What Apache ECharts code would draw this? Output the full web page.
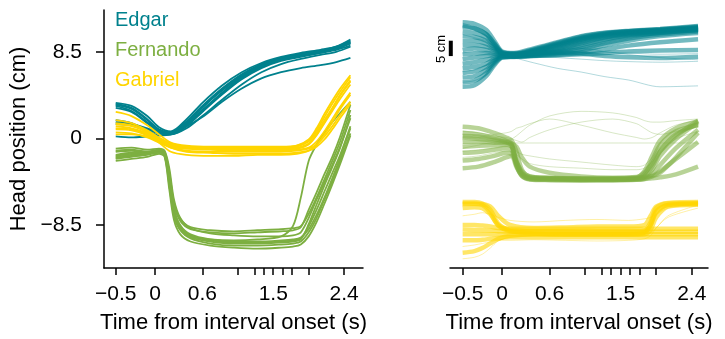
<!DOCTYPE html>
<html>
<head>
<meta charset="utf-8">
<script src="https://cdn.jsdelivr.net/npm/echarts@6/dist/echarts.min.js"></script>
<style>
  html, body { margin: 0; padding: 0; background: #fff; }
  #chart { width: 725px; height: 339px; }
</style>
</head>
<body>
<div id="chart"></div>
<script>
// colours per monkey
const colors = { Edgar: "#00818d", Fernando: "#7daf41", Gabriel: "#ffd500" };

// x axis ticks (s)
const tickValues = [-0.5, 0, 0.6, 1.05, 1.26, 1.38, 1.5, 1.62, 1.74, 1.95, 2.4];
const labelValues = [-0.5, 0, 0.6, 1.5, 2.4];
const yLabelValues = [-8.5, 0, 8.5];

// left panel: example trials, head position (cm)
const leftTimeEdgar = [-0.5, -0.3, -0.1, 0.05, 0.2, 0.4, 0.6, 0.85, 1.1, 1.35, 1.6, 1.85, 2.1, 2.3, 2.48];
const leftEdgar = [
  [3.4, 3.0, 1.9, 0.9, 0.6, 1.7, 3.2, 4.9, 6.3, 7.3, 7.9, 8.3, 8.6, 8.9, 9.5],
  [3.2, 2.7, 1.6, 0.7, 0.5, 1.4, 2.8, 4.5, 6.0, 7.1, 7.7, 8.1, 8.4, 8.8, 9.3],
  [3.5, 3.2, 2.2, 1.1, 0.7, 1.9, 3.5, 5.2, 6.5, 7.4, 8.0, 8.4, 8.7, 9.0, 9.6],
  [1.6, 1.4, 1.0, 0.6, 0.4, 1.2, 2.6, 4.3, 5.8, 6.9, 7.6, 8.0, 8.4, 8.7, 9.1],
  [1.4, 1.3, 0.9, 0.5, 0.5, 1.5, 3.0, 4.8, 6.2, 7.2, 7.8, 8.2, 8.5, 8.8, 9.4],
  [3.0, 2.6, 1.5, 0.6, 0.4, 1.0, 2.2, 3.8, 5.3, 6.5, 7.3, 7.8, 8.2, 8.5, 9.0],
  [1.8, 1.5, 0.8, 0.3, 0.4, 1.3, 2.7, 4.4, 5.9, 7.0, 7.7, 8.2, 8.5, 8.9, 9.4],
  [3.3, 2.9, 1.8, 0.8, 0.6, 1.2, 2.1, 3.6, 4.9, 5.9, 6.5, 6.9, 7.2, 7.5, 7.9],
  [0.2, 0.1, 0.2, 0.3, 0.5, 1.6, 3.1, 4.7, 6.1, 7.1, 7.8, 8.2, 8.6, 9.0, 9.7]
];
const leftTimeFernando = [-0.5, -0.3, -0.1, 0.05, 0.12, 0.18, 0.24, 0.32, 0.45, 0.7, 1.0, 1.3, 1.6, 1.75, 1.85, 1.95, 2.05, 2.15, 2.25, 2.35, 2.48];
const leftFernando = [
  [-1.6, -1.4, -1.4, -1.2, -1.5, -3.9, -7.0, -8.6, -9.5, -10.0, -10.2, -10.2, -10.1, -10.0, -9.8, -8.6, -7.0, -5.2, -3.4, -1.6, 1.2],
  [-1.9, -1.7, -1.5, -1.3, -1.7, -4.6, -7.6, -9.0, -9.8, -10.3, -10.5, -10.5, -10.4, -10.3, -10.1, -9.2, -7.8, -6.0, -4.2, -2.2, 0.5],
  [-1.0, -0.9, -1.1, -1.0, -1.2, -2.9, -6.0, -7.8, -8.8, -9.3, -9.5, -9.6, -9.6, -9.5, -9.2, -7.8, -6.0, -4.3, -2.6, -0.8, 2.0],
  [-2.2, -2.0, -1.8, -1.5, -1.8, -5.0, -8.0, -9.4, -10.1, -10.5, -10.7, -10.8, -10.7, -10.6, -10.4, -9.6, -8.2, -6.4, -4.5, -2.5, 0.3],
  [-1.3, -1.2, -1.3, -1.1, -1.3, -3.3, -6.3, -7.9, -8.7, -9.0, -9.1, -9.0, -8.9, -8.8, -8.6, -7.4, -5.8, -4.0, -2.2, -0.3, 2.8],
  [-1.7, -1.5, -1.5, -1.3, -1.6, -4.1, -7.2, -8.8, -9.6, -9.9, -10.0, -9.9, -9.6, -8.6, -5.8, -2.2, -0.6, 0.6, 1.6, 2.5, 3.6],
  [-1.8, -1.6, -1.4, -1.2, -1.4, -3.7, -6.9, -8.5, -9.4, -9.9, -10.1, -10.1, -10.0, -9.9, -9.7, -8.9, -7.5, -5.8, -3.9, -1.9, 1.0],
  [-1.2, -1.1, -1.3, -1.2, -1.6, -4.3, -7.4, -8.9, -9.7, -10.1, -10.3, -10.3, -10.2, -10.1, -9.9, -8.4, -6.5, -4.6, -2.8, -0.9, 2.3],
  [-2.0, -1.8, -1.6, -1.4, -1.5, -3.5, -6.5, -8.1, -8.9, -9.2, -9.3, -9.2, -9.1, -9.0, -8.7, -7.0, -5.3, -3.5, -1.8, 0.2, 3.3]
];
const leftTimeGabriel = [-0.5, -0.3, -0.1, 0.05, 0.2, 0.4, 0.7, 1.0, 1.3, 1.6, 1.8, 1.95, 2.05, 2.15, 2.25, 2.35, 2.48];
const leftGabriel = [
  [1.5, 1.3, 0.7, 0.0, -0.6, -0.9, -1.0, -1.1, -1.1, -1.1, -1.0, -0.6, 0.3, 1.5, 2.7, 3.9, 5.3],
  [1.0, 0.9, 0.4, -0.2, -0.7, -1.0, -1.1, -1.2, -1.2, -1.2, -1.1, -0.9, -0.3, 0.7, 1.9, 3.1, 4.5],
  [2.6, 2.2, 1.3, 0.4, -0.4, -0.7, -0.8, -0.8, -0.8, -0.8, -0.7, -0.2, 0.8, 2.1, 3.4, 4.6, 6.0],
  [0.6, 0.5, 0.1, -0.4, -0.9, -1.2, -1.3, -1.3, -1.3, -1.3, -1.2, -1.0, -0.6, 0.2, 1.2, 2.3, 3.6],
  [1.8, 1.5, 0.8, 0.1, -0.5, -0.8, -0.9, -1.0, -1.0, -1.0, -0.8, -0.3, 0.6, 1.8, 3.0, 4.3, 5.7],
  [1.2, 1.0, 0.5, -0.4, -1.3, -1.6, -1.7, -1.7, -1.6, -1.6, -1.5, -1.2, -0.6, 0.4, 1.6, 2.9, 4.3],
  [0.9, 0.8, 0.3, -0.3, -0.8, -1.0, -1.0, -1.0, -1.0, -1.0, -0.9, -0.5, 0.4, 1.6, 2.9, 4.2, 5.6],
  [1.4, 1.2, 0.6, -0.1, -0.6, -0.8, -0.9, -0.9, -0.9, -0.9, -0.7, -0.1, 1.0, 2.4, 3.7, 4.9, 6.2],
  [0.4, 0.4, 0.2, -0.2, -0.9, -1.3, -1.4, -1.5, -1.5, -1.5, -1.4, -1.2, -0.8, -0.1, 0.9, 2.0, 3.4]
];

// right panel: all trials, stacked with an offset (cm)
const rightTimeEdgar = [-0.5, -0.35, -0.2, -0.1, 0, 0.15, 0.4, 0.7, 1.0, 1.3, 1.6, 2.0, 2.48];
const rightEdgarDense = [
  [80.0, 79.5, 77.5, 74.0, 70.5, 70.0, 71.5, 73.5, 75.5, 76.6, 77.2, 77.8, 78.8],
  [78.5, 78.0, 76.2, 73.2, 70.2, 69.8, 71.2, 73.3, 75.3, 76.5, 77.1, 77.7, 78.6],
  [77.0, 76.5, 75.0, 72.5, 70.0, 69.6, 71.0, 73.0, 75.0, 76.3, 77.0, 77.6, 78.4],
  [75.5, 75.2, 74.0, 72.0, 69.9, 69.5, 70.8, 72.8, 74.8, 76.2, 76.9, 77.5, 78.3],
  [74.0, 74.0, 73.0, 71.5, 69.8, 69.4, 70.6, 72.6, 74.6, 76.0, 76.8, 77.4, 78.2],
  [72.5, 72.6, 72.0, 71.0, 69.7, 69.4, 70.4, 72.3, 74.3, 75.8, 76.6, 77.3, 78.0],
  [71.0, 71.5, 71.0, 70.5, 69.6, 69.3, 70.2, 72.0, 74.0, 75.6, 76.4, 77.1, 77.9],
  [69.5, 69.8, 70.0, 69.8, 69.4, 69.2, 70.0, 71.6, 73.6, 75.3, 76.2, 77.0, 77.8],
  [68.0, 68.5, 69.0, 69.3, 69.3, 69.2, 69.8, 71.2, 73.2, 75.0, 76.0, 76.8, 77.6],
  [66.5, 67.0, 67.8, 68.6, 69.1, 69.1, 69.6, 70.8, 72.6, 74.5, 75.7, 76.6, 77.5],
  [65.0, 65.5, 66.5, 68.0, 69.0, 69.0, 69.5, 70.5, 72.0, 74.0, 75.4, 76.5, 77.4],
  [63.5, 64.0, 65.5, 67.5, 68.8, 68.9, 69.3, 70.1, 71.4, 73.2, 74.7, 76.0, 77.0],
  [62.0, 62.5, 64.5, 67.0, 68.7, 68.8, 69.2, 69.8, 70.8, 72.5, 74.0, 75.5, 76.5],
  [60.5, 61.0, 63.5, 66.5, 68.6, 68.8, 69.1, 69.5, 70.2, 71.2, 72.4, 73.5, 74.5],
  [59.0, 59.5, 62.5, 66.0, 68.5, 68.7, 69.0, 69.3, 69.6, 70.0, 70.5, 70.8, 71.0],
  [79.0, 78.0, 76.0, 73.0, 70.2, 69.8, 70.0, 70.2, 69.8, 69.0, 68.6, 68.4, 68.8]
];
const rightEdgarSparse = [
  [60.5, 61.0, 63.0, 66.5, 68.8, 68.4, 66.8, 65.0, 63.8, 62.3, 61.2, 59.0, 59.3],
  [76.0, 75.0, 74.0, 72.0, 70.0, 69.5, 69.0, 68.5, 68.0, 67.5, 67.2, 67.0, 67.3],
  [64.0, 64.5, 66.0, 68.0, 69.0, 69.2, 70.0, 71.0, 71.5, 70.5, 69.5, 68.5, 67.8],
  [70.0, 70.5, 70.0, 69.5, 69.0, 68.8, 68.5, 68.8, 69.5, 70.2, 70.0, 69.6, 69.8]
];
const rightTimeFernando = [-0.5, -0.3, -0.1, 0.05, 0.12, 0.18, 0.25, 0.35, 0.6, 1.0, 1.4, 1.7, 1.8, 1.9, 2.0, 2.2, 2.48];
const rightFernandoDense = [
  [41.0, 41.2, 40.8, 40.6, 40.0, 35.0, 31.0, 29.5, 29.2, 29.0, 29.0, 29.2, 30.5, 35.0, 40.0, 44.5, 46.5],
  [44.0, 43.5, 42.5, 41.5, 40.5, 34.0, 30.5, 29.2, 29.0, 28.8, 28.8, 29.0, 29.5, 32.0, 36.5, 42.0, 47.5],
  [37.5, 37.8, 38.5, 39.0, 38.5, 33.5, 30.2, 29.0, 28.8, 28.7, 28.7, 28.9, 29.2, 30.5, 33.5, 39.0, 45.0],
  [35.0, 35.5, 36.5, 37.5, 37.0, 34.5, 31.5, 29.8, 29.4, 29.2, 29.1, 29.3, 29.6, 30.0, 31.5, 35.5, 41.0],
  [46.0, 45.5, 44.0, 42.5, 41.5, 38.0, 32.0, 29.8, 29.3, 29.1, 29.2, 29.5, 31.5, 36.5, 41.5, 45.5, 47.8],
  [32.5, 33.0, 34.5, 36.0, 36.5, 33.0, 30.0, 28.8, 28.6, 28.5, 28.6, 28.8, 29.0, 29.2, 29.5, 30.5, 33.0],
  [42.5, 42.0, 41.5, 41.0, 40.5, 39.5, 36.0, 33.0, 31.0, 29.8, 29.4, 29.6, 31.0, 34.0, 38.0, 43.0, 48.0],
  [43.0, 42.8, 42.0, 41.0, 39.8, 33.5, 30.0, 29.0, 28.7, 28.6, 28.6, 28.7, 29.0, 29.8, 31.0, 36.0, 44.0],
  [39.5, 39.8, 40.0, 40.2, 39.5, 34.5, 30.8, 29.4, 29.1, 28.9, 28.9, 29.1, 29.8, 33.0, 38.0, 43.5, 46.8]
];
const rightFernandoSparse = [
  [40.5, 40.6, 40.7, 40.7, 40.7, 40.7, 40.7, 40.7, 40.7, 40.7, 40.7, 40.7, 40.7, 40.7, 40.7, 40.7, 40.7],
  [39.0, 40.0, 41.0, 41.5, 42.0, 43.0, 44.5, 46.5, 49.5, 51.0, 50.5, 49.0, 48.0, 47.5, 47.5, 48.0, 48.5],
  [38.0, 38.5, 39.0, 39.5, 39.0, 38.0, 37.0, 36.5, 35.5, 34.5, 33.5, 33.0, 33.5, 36.0, 39.5, 43.5, 46.0],
  [44.5, 44.0, 43.0, 42.5, 42.0, 41.5, 41.0, 42.5, 45.0, 47.5, 48.5, 47.0, 45.5, 44.0, 43.5, 44.5, 46.0],
  [42.0, 42.5, 43.5, 44.0, 44.5, 45.5, 46.0, 47.0, 48.5, 46.5, 44.0, 42.5, 42.0, 42.5, 44.0, 46.5, 48.0],
  [36.0, 36.5, 37.5, 38.0, 38.0, 37.0, 35.5, 34.0, 33.0, 32.5, 32.0, 32.0, 32.5, 34.5, 38.0, 42.0, 44.5]
];
const rightTimeGabriel = [-0.5, -0.35, -0.25, -0.15, -0.05, 0.1, 0.4, 0.8, 1.2, 1.6, 1.8, 1.88, 1.95, 2.1, 2.48];
const rightGabrielDense = [
  [21.5, 21.5, 21.0, 19.0, 14.5, 12.5, 12.0, 12.0, 12.0, 12.0, 12.2, 15.0, 19.5, 21.0, 21.2],
  [20.8, 20.8, 20.5, 18.0, 13.8, 12.0, 11.5, 11.5, 11.5, 11.5, 11.7, 14.0, 18.5, 20.5, 20.8],
  [14.0, 14.0, 13.8, 13.5, 13.0, 12.8, 12.8, 12.8, 12.8, 12.8, 12.8, 12.8, 12.8, 12.8, 12.8],
  [11.0, 11.0, 11.0, 11.0, 11.0, 11.0, 11.0, 11.0, 11.0, 11.0, 11.0, 11.0, 11.0, 11.0, 11.0],
  [9.0, 9.0, 9.2, 9.5, 9.8, 10.0, 10.0, 10.0, 10.0, 10.0, 10.0, 10.0, 10.0, 10.0, 10.0],
  [5.0, 5.5, 6.5, 8.0, 9.5, 10.5, 11.0, 11.0, 11.0, 11.0, 11.5, 14.0, 18.0, 20.5, 21.0],
  [21.0, 21.0, 20.8, 20.0, 17.0, 14.0, 13.0, 13.2, 13.5, 13.5, 14.0, 17.0, 20.0, 21.2, 21.5],
  [12.5, 12.4, 12.3, 12.2, 12.0, 11.8, 11.8, 11.8, 11.8, 11.8, 11.8, 11.8, 11.8, 11.8, 11.8],
  [19.5, 19.8, 19.5, 17.5, 14.0, 12.2, 11.2, 10.8, 10.8, 10.8, 11.0, 12.5, 16.5, 20.0, 20.6]
];
const rightGabrielSparse = [
  [3.0, 3.5, 4.5, 6.5, 8.8, 10.0, 10.5, 10.8, 10.8, 10.8, 11.0, 11.5, 13.0, 17.0, 20.5],
  [17.0, 17.5, 18.0, 17.5, 16.5, 15.5, 15.0, 15.5, 15.8, 15.5, 16.0, 16.5, 17.5, 19.5, 21.0],
  [7.0, 7.5, 8.0, 8.5, 9.0, 9.0, 9.2, 9.0, 8.8, 9.0, 9.5, 10.5, 13.0, 16.5, 19.5]
];
// 5 cm scale bar on the right panel
const scaleBar = [[-0.65, 69], [-0.65, 74]];

const font = "Liberation Sans, Arial, sans-serif";

function pairs(times, ys) {
  return times.map((t, i) => [t, ys[i]]);
}

function minus(v) {
  return String(v).replace("-", "\u2212");
}

var series = [];
function addTrials(trials, times, name, grid, width, opacity) {
  trials.forEach((ys) => {
    series.push({
      type: "line",
      name: name,
      xAxisIndex: grid,
      yAxisIndex: grid,
      data: pairs(times, ys),
      showSymbol: false,
      smooth: 0.3,
      lineStyle: { color: colors[name], width: width, opacity: opacity },
      silent: true,
    });
  });
}

// left panel
addTrials(leftEdgar, leftTimeEdgar, "Edgar", 0, 1.8, 1);
addTrials(leftFernando, leftTimeFernando, "Fernando", 0, 1.8, 1);
addTrials(leftGabriel, leftTimeGabriel, "Gabriel", 0, 1.8, 1);
// right panel
addTrials(rightEdgarDense, rightTimeEdgar, "Edgar", 1, 4.5, 0.55);
addTrials(rightEdgarSparse, rightTimeEdgar, "Edgar", 1, 1, 0.3);
addTrials(rightFernandoDense, rightTimeFernando, "Fernando", 1, 4.5, 0.55);
addTrials(rightFernandoSparse, rightTimeFernando, "Fernando", 1, 1, 0.3);
addTrials(rightGabrielDense, rightTimeGabriel, "Gabriel", 1, 4.5, 0.6);
addTrials(rightGabrielSparse, rightTimeGabriel, "Gabriel", 1, 1, 0.35);
series.push({
  type: "line",
  xAxisIndex: 1,
  yAxisIndex: 1,
  data: scaleBar,
  showSymbol: false,
  clip: false,
  lineStyle: { color: "#000", width: 4, cap: "butt" },
  silent: true,
});

function timeAxis(grid, min, max) {
  return {
    type: "value",
    gridIndex: grid,
    min: min,
    max: max,
    name: "Time from interval onset (s)",
    nameLocation: "middle",
    nameGap: 44,
    nameTextStyle: { fontSize: 22, color: "#000", fontFamily: font },
    axisLine: { onZero: false, lineStyle: { color: "#000", width: 1.5 } },
    axisTick: { customValues: tickValues, length: 7, lineStyle: { color: "#000", width: 1.5 } },
    axisLabel: {
      customValues: labelValues,
      formatter: minus,
      fontSize: 21,
      color: "#000",
      fontFamily: font,
      margin: 16,
    },
    splitLine: { show: false },
  };
}

const option = {
  backgroundColor: "#fff",
  animation: false,
  grid: [
    { left: 104, top: 10, width: 259, height: 258 },
    { left: 450, top: 10, width: 258, height: 258 },
  ],
  xAxis: [timeAxis(0, -0.649, 2.64), timeAxis(1, -0.66, 2.606)],
  yAxis: [
    {
      type: "value",
      gridIndex: 0,
      min: -12.7,
      max: 12.6,
      name: "Head position (cm)",
      nameLocation: "middle",
      nameGap: 74,
      nameTextStyle: { fontSize: 22, color: "#000", fontFamily: font },
      axisLine: { onZero: false, lineStyle: { color: "#000", width: 1.5 } },
      axisTick: { customValues: yLabelValues, length: 8, lineStyle: { color: "#000", width: 1.5 } },
      axisLabel: {
        customValues: yLabelValues,
        formatter: minus,
        fontSize: 21,
        color: "#000",
        fontFamily: font,
        margin: 22,
      },
      splitLine: { show: false },
    },
    { type: "value", gridIndex: 1, min: 0, max: 84, show: false },
  ],
  graphic: [
    { type: "text", left: 115, top: 10, style: { text: "Edgar", fill: colors.Edgar, fontSize: 20, fontFamily: font } },
    { type: "text", left: 115, top: 40, style: { text: "Fernando", fill: colors.Fernando, fontSize: 20, fontFamily: font } },
    { type: "text", left: 115, top: 70, style: { text: "Gabriel", fill: colors.Gabriel, fontSize: 20, fontFamily: font } },
    {
      type: "text",
      x: 441,
      y: 49,
      rotation: Math.PI / 2,
      style: { text: "5 cm", fill: "#000", fontSize: 13, fontFamily: font, align: "center", verticalAlign: "middle" },
    },
  ],
  series: series,
};

var myChart = echarts.init(document.getElementById("chart"));
option && myChart.setOption(option);
</script>
</body>
</html>
